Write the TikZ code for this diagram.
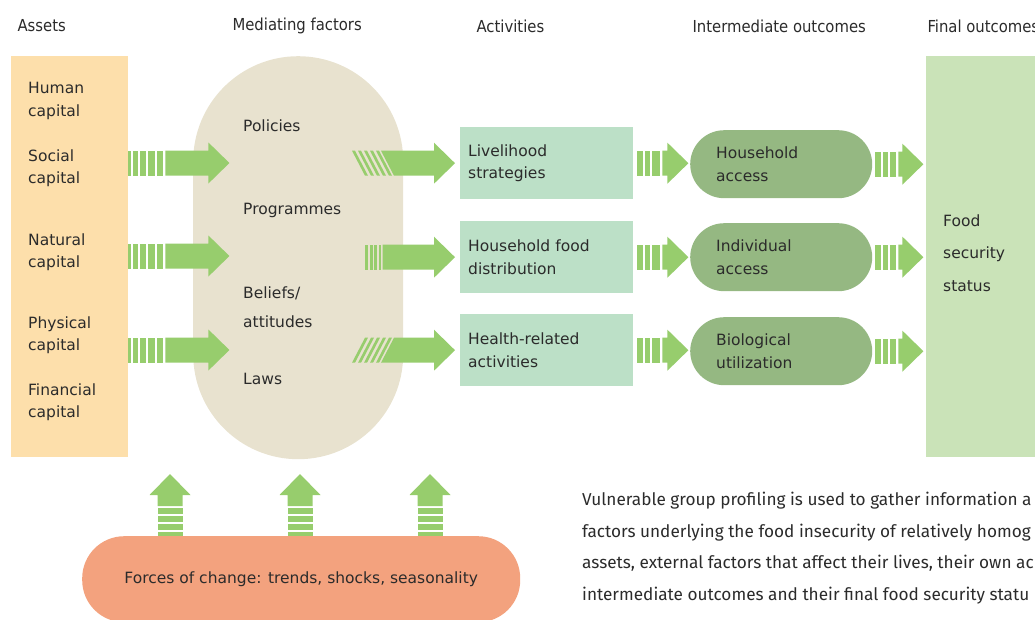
\documentclass[tikz,border=0pt]{standalone}
\usepackage{fontspec}
\setmainfont{DejaVu Sans}
\newfontfamily\headfont{DejaVu Sans Condensed}
\newfontfamily\bodyfont{Fira Sans}
\usetikzlibrary{positioning,calc}
\definecolor{assetorange}{HTML}{FDDFAB}
\definecolor{factorbeige}{HTML}{E8E2CF}
\definecolor{activitymint}{HTML}{BCE0C7}
\definecolor{outcomegreen}{HTML}{95B882}
\definecolor{finalgreen}{HTML}{CAE3B8}
\definecolor{arrowgreen}{HTML}{97CD6D}
\definecolor{forcesorange}{HTML}{F3A27E}
\definecolor{inkgray}{HTML}{2B2B2B}

% striped block arrow: length, slant of the stripes, stripe list, start of solid shaft
\tikzset{
  pics/fatarrow/.style n args={4}{code={
    \fill[arrowgreen] ({#4-(#2)},-12.5) -- ({#1-21},-12.5) -- ({#1-21},-20.5)
      -- (#1,0) -- ({#1-21},20.5) -- ({#1-21},12.5) -- ({#4+(#2)},12.5) -- cycle;
    \foreach \a/\b in {#3}
      \fill[arrowgreen] ({\a-(#2)},-12.5) -- ({\b-(#2)},-12.5)
        -- ({\b+(#2)},12.5) -- ({\a+(#2)},12.5) -- cycle;
  }}
}

\begin{document}
\begin{tikzpicture}[x=1pt, y=-1pt, text=inkgray,
    font=\fontsize{15.5}{22.5}\selectfont,
    colhead/.style={font=\headfont\fontsize{16.5}{20}\selectfont, anchor=west},
    caption/.style={anchor=west, align=left, inner sep=0pt},
    block/.style={rectangle, inner sep=0pt, anchor=north west},
    activity/.style={rectangle, fill=activitymint, minimum width=173pt,
                     minimum height=72pt, text width=157pt, inner xsep=8pt,
                     align=left, anchor=north west},
    outcome/.style={rectangle, rounded corners=34pt, fill=outcomegreen,
                    minimum width=182pt, minimum height=68pt, text width=130pt,
                    inner xsep=26pt, align=left, anchor=north west}]
\useasboundingbox (0,0) rectangle (1035,619);
\clip (0,0) rectangle (1035,619);

% Column headings
\node[colhead] (hassets)     at (14,26)  {Assets};
\node[colhead] (hfactors)    at (229,26) {Mediating factors};
\node[colhead] (hactivities) at (473,26) {Activities};
\node[colhead] (hinter)      at (689,26) {Intermediate outcomes};
\node[colhead] (hfinal)      at (924,26) {Final outcomes};

% Tall columns
\node[block, fill=assetorange, minimum width=117pt, minimum height=401pt] (assets) at (11,56) {};
\node[block, fill=factorbeige, rounded corners=105pt,
      minimum width=210pt, minimum height=403pt] (factors) at (193,56) {};
\node[block, fill=finalgreen, minimum width=130pt, minimum height=401pt] (final) at (926,56) {};

% Assets
\node[caption] (human)     at (28,101) {Human\\capital};
\node[caption] (social)    at (28,168) {Social\\capital};
\node[caption] (natural)   at (28,252) {Natural\\capital};
\node[caption] (physical)  at (28,335) {Physical\\capital};
\node[caption] (financial) at (28,402) {Financial\\capital};

% Mediating factors
\node[caption] (policies)   at (243,126) {Policies};
\node[caption] (programmes) at (243,210) {Programmes};
\node[caption] (beliefs)    at (243,307) {Beliefs/\\[6.5pt]attitudes};
\node[caption] (laws)       at (243,379) {Laws};

% Activities
\node[activity] (livelihood)   at (460,127) {Livelihood\\strategies};
\node[activity] (distribution) at (460,221) {Household food\\distribution};
\node[activity] (health)       at (460,314) {Health-related\\activities};

% Intermediate outcomes
\node[outcome] (haccess)     at (690,130) {Household\\access};
\node[outcome] (iaccess)     at (690,223) {Individual\\access};
\node[outcome] (utilization) at (690,317) {Biological\\utilization};

% Final outcome
\node[caption, font=\fontsize{15.5}{32.5}\selectfont] (status) at (943,253) {Food\\security\\status};

% Forces of change
\node[block, rounded corners=42pt, fill=forcesorange, minimum width=438pt,
      minimum height=86pt] (forces) at (82,536) {};
\node (forcestext) at (forces.center) {Forces of change: trends, shocks, seasonality};

% Profiling note
\node[caption, font=\bodyfont\fontsize{17.2}{31.5}\selectfont] (profiling) at (582,548)
  {Vulnerable group profiling is used to gather information a\\
   factors underlying the food insecurity of relatively homog\\
   assets, external factors that affect their lives, their own ac\\
   intermediate outcomes and their final food security statu};

% Assets -> mediating factors
\foreach \y in {163,256,350}
  \pic at (assets.east |- 0,\y) {fatarrow={101}{0}{0/3,5/10,12/18,20/27,29/35}{37}};

% Mediating factors -> activities
\pic at ([xshift=-101.5pt]livelihood.west) {fatarrow={96.5}{6.5}{0/3,6/9,12/15,18/21,24/27}{29}};
\pic at ([xshift=-95pt]distribution.west) {fatarrow={90}{0}{0/3,4.5/7.5,9/12,13.5/16}{17.5}};
\pic at ([xshift=-101.5pt]health.west) {fatarrow={96.5}{-6.5}{0/3,6/9,12/15,18/21,24/27}{29}};

% Activities -> intermediate outcomes
\foreach \n in {livelihood,distribution,health}
  \pic at ([xshift=4pt]\n.east) {fatarrow={51}{0}{0/6,7.5/13,15/23}{25}};

% Intermediate outcomes -> final outcome
\foreach \n in {haccess,iaccess,utilization}
  \pic at ([xshift=3pt]\n.east) {fatarrow={48}{0}{0/6,7.5/13,15/21}{23}};

% Forces of change push on the mediating factors
\foreach \x in {170,300,430}
  \pic[rotate=90] at (forces.north -| \x,0) {fatarrow={62}{0}{0/4,6/12,14/20,22/28}{30}};

\end{tikzpicture}
\end{document}
